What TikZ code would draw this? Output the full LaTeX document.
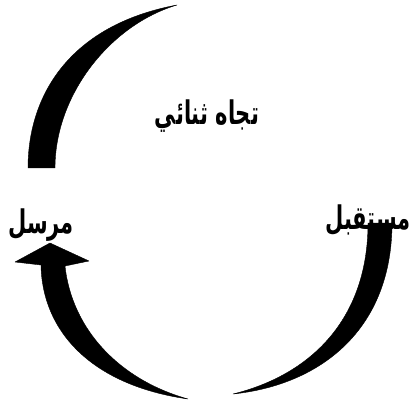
\documentclass[tikz,border=0pt]{standalone}
\usepackage{graphicx}
\usepackage{fontspec}
\newfontfamily\arabicfont[Script=Arabic]{DejaVu Sans}
\TeXXeTstate=1
\newcommand{\tallword}[1]{\scalebox{1}[1.55]{\beginR #1\endR}}
\begin{document}
\begin{tikzpicture}
[x=1pt,y=-1pt,every node/.style={font=\arabicfont\bfseries\fontsize{21}{24}\selectfont, inner sep=0pt},
crescent/.style={fill=black,draw=black,line join=round}]
\useasboundingbox (0,0) rectangle (412,406);
\node (mode) at (207,116) {\tallword{تجاه ثنائي}};
\node (sender) at (41,225) {\tallword{مرسل}};
\node[anchor=east] (receiver) at (411,220) {\tallword{مستقبل}};
% upper arc, from sender side up to the top
\coordinate (up1) at (28,168);
\coordinate (up2) at (55,168);
\coordinate (uptip) at (177,5);
\draw[crescent] (up1) .. controls (28,95) and (70,25) .. (uptip)
  .. controls (110,25) and (55,95) .. (up2) -- cycle;
% right arc, from receiver down to the bottom
\coordinate (rt1) at (392,223);
\coordinate (rt2) at (368,223);
\coordinate (rttip) at (233,394);
\draw[crescent] (rt1) .. controls (392,330) and (320,385) .. (rttip)
  .. controls (310,375) and (368,320) .. (rt2) -- cycle;
% left arc with head, from the bottom up to sender
\coordinate (lftip) at (188,399);
\coordinate (head) at (50,243);
\draw[crescent] (lftip) .. controls (120,380) and (72,330) .. (65,266)
  -- (89,261) -- (head) -- (15,262) -- (41,265)
  .. controls (42,330) and (90,385) .. (lftip) -- cycle;
\end{tikzpicture}
\end{document}
